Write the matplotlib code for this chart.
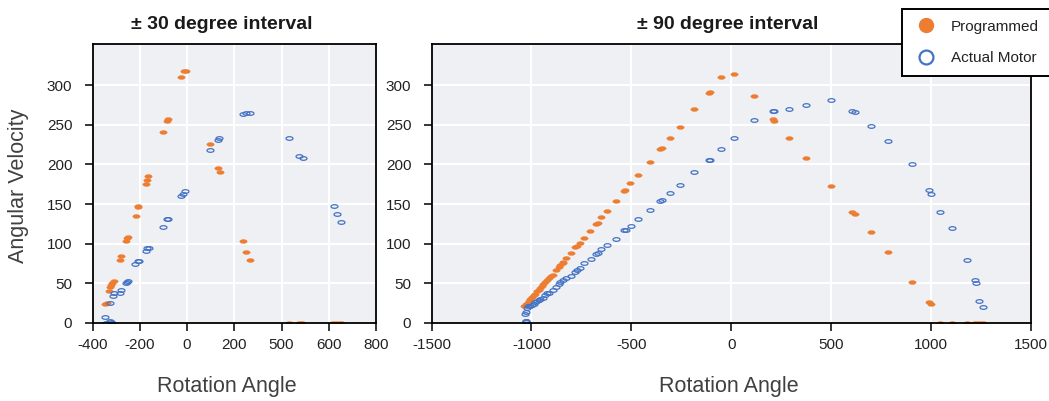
import numpy as np
import matplotlib
matplotlib.use("Agg")
import matplotlib.pyplot as plt
from matplotlib.lines import Line2D

plt.rcParams['font.family'] = ['Liberation Sans', 'DejaVu Sans']

# ---------------- data ----------------
left_title = "± 30 degree interval"
right_title = "± 90 degree interval"

left_xticks = [-400, -200, 0, 200, 400, 600, 800]
left_xticklabels = ["-400", "-200", "0", "200", "500", "600", "800"]
right_xticks = [-1500, -1000, -500, 0, 500, 1000, 1500]
right_xticklabels = ["-1500", "-1000", "-500", "0", "500", "1000", "1500"]
yticks = [0, 50, 100, 150, 200, 250, 300]

left_prog_x = [-347, -340, -331, -325, -321, -317, -311, -283, -278, -258, -252, -249,
               -217, -207, -206, -175, -169, -163, -101, -86, -79, -24, -11, -4,
               99, 131, 138, 237, 248, 265, 431, 472, 486, 616, 633, 651]
left_prog_y = [24, 25, 40, 45, 48, 51, 53, 80, 85, 103, 107, 109,
               135, 146, 148, 176, 181, 185, 241, 255, 258, 310, 318, 318,
               226, 195, 191, 104, 90, 79, 0, 0, 0, 0, 0, 0]

left_act_x = [-345, -342, -328, -321, -317, -324, -314, -310, -283, -278, -258, -252, -248,
              -218, -209, -204, -175, -169, -162, -101, -86, -79, -24, -18, -7,
              99, 131, 137, 237, 251, 265, 431, 472, 489, 622, 637, 651]
left_act_y = [7, 0, 2, 1, 0, 25, 34, 38, 38, 42, 50, 52, 53,
              74, 78, 78, 91, 94, 95, 121, 131, 131, 160, 163, 167,
              218, 231, 234, 264, 265, 265, 234, 211, 208, 148, 137, 128]

right_prog_x = [-1035, -1025, -1018, -1012, -1005, -997, -988, -980, -972, -963, -955, -947,
                -942, -930, -922, -912, -902, -892, -875, -863, -855, -843, -842, -827,
                -802, -780, -772, -755, -735, -705, -675, -668, -650, -623, -578, -538,
                -530, -505, -467, -408, -355, -347, -308, -255, -185, -112, -105, -52,
                12, 112, 208, 215, 290, 375, 500, 603, 618, 697, 783, 907,
                990, 1000, 1045, 1103, 1182, 1220, 1242, 1262]
right_prog_y = [21.5, 23.6, 25.7, 27.8, 29.9, 32.8, 35, 37, 40.4, 42.1, 44.6, 46.7,
                49.7, 51.8, 54.7, 57.2, 59.8, 61, 66.5, 70.7, 73.2, 75.8, 77, 81.7,
                88.4, 95.5, 96.8, 101.4, 107.3, 116.2, 125.4, 126.3, 133.8, 141, 154.5, 166.3,
                167.5, 176.4, 187.3, 202.9, 219.3, 221, 233.6, 247.5, 269.8, 290.4, 291.7, 309.8,
                314, 285.8, 257.6, 254.6, 233.6, 208.8, 172.6, 140, 137, 114.5, 89, 51.8,
                27, 24, 0, 0, 0, 0, 0, 0]

right_act_x = [-1027, -1025, -1029, -1030, -1025, -1022, -1017, -1005, -997, -988, -980, -972,
               -963, -955, -943, -933, -922, -910, -893, -875, -863, -855, -842, -827,
               -802, -780, -772, -755, -735, -702, -675, -668, -650, -623, -578, -538,
               -528, -500, -467, -408, -355, -347, -308, -255, -185, -112, -105, -52,
               12, 112, 208, 216, 290, 375, 500, 603, 618, 697, 783, 907,
               992, 1000, 1045, 1105, 1182, 1222, 1223, 1242, 1262]
right_act_y = [1.5, 3, 2, 11.8, 14.3, 19, 21, 21.9, 23, 24.4, 26, 27.4,
               29, 30.7, 32, 35.8, 37.5, 38.3, 42, 45.5, 49.2, 51.3, 54.7, 56.8,
               59.3, 64.8, 66.5, 70, 75.8, 80.4, 86.7, 88.4, 93.9, 98.5, 106.5, 117,
               117, 122, 131, 142.7, 154, 155.7, 164, 174, 190, 205.8, 206, 219,
               233.6, 256, 268, 268, 270.6, 275, 280.8, 267.7, 266.4, 248, 229.4, 201,
               167.5, 163.3, 140, 119.5, 79, 54, 51, 27.4, 20]

series_labels = ["Programmed", "Actual Motor"]

# ---------------- style ----------------
ORANGE = '#ED7D31'
BLUE = '#4472C4'
BG = '#eff0f3'
t = np.linspace(0, 2 * np.pi, 60)
ellipse = np.column_stack([np.cos(t), 0.52 * np.sin(t)])

W, H = 1049, 401
fig = plt.figure(figsize=(W / 100, H / 100), dpi=100)

def px_axes(x0, x1, y0, y1):
    return fig.add_axes([x0 / W, 1 - y1 / H, (x1 - x0) / W, (y1 - y0) / H])

axL = px_axes(92.5, 376, 44, 323)
axR = px_axes(431.5, 1031, 44, 323)

panels = [
    (axL, left_title, 0.456, 0.474, left_xticks, left_xticklabels, (-400, 800),
     left_prog_x, left_prog_y, left_act_x, left_act_y),
    (axR, right_title, 0.494, 0.496, right_xticks, right_xticklabels, (-1500, 1500),
     right_prog_x, right_prog_y, right_act_x, right_act_y),
]

for ax, title, tx, lx, xt, xtl, xlim, px_, py_, ax_, ay_ in panels:
    ax.set_facecolor(BG)
    ax.set_axisbelow(True)
    ax.grid(True, color='white', lw=1.5)
    ax.plot(px_, py_, ls='none', marker=ellipse, ms=5.3, mfc=ORANGE, mec=ORANGE, mew=0.3)
    ax.plot(ax_, ay_, ls='none', marker=ellipse, ms=5.0, mfc='none', mec=BLUE, mew=0.9)
    ax.set_xlim(*xlim)
    ax.set_ylim(0, 352)
    ax.set_xticks(xt)
    ax.set_xticklabels(xtl)
    ax.set_yticks(yticks)
    for s in ax.spines.values():
        s.set_linewidth(1.3)
        s.set_color('black')
    ax.tick_params(direction='out', length=6, width=1.1, color='black',
                   labelsize=11, labelcolor='#222222')
    ax.tick_params(axis='x', pad=4.5)
    ax.tick_params(axis='y', pad=8.5)
    ax.set_title(title, fontsize=14, fontweight='bold', pad=11, color='#1a1a1a', x=tx)
    ax.set_xlabel("Rotation Angle", fontsize=15.5, color='#404040')
    ax.xaxis.label.set_va('baseline')
    ax.xaxis.set_label_coords(lx, -(391.7 - 323) / 279)

axL.set_ylabel("Angular Velocity", fontsize=15.5, color='#404040')
axL.yaxis.set_label_coords(-(92.5 - 29) / 283.5, 0.49)

handles = [
    Line2D([], [], ls='none', marker='o', ms=10, mfc=ORANGE, mec=ORANGE),
    Line2D([], [], ls='none', marker='o', ms=10, mfc='none', mec=BLUE, mew=1.6),
]
leg = fig.legend(handles, series_labels, loc='upper left',
                 bbox_to_anchor=(902 / W, 1 - 9 / H), borderaxespad=0,
                 frameon=True, fancybox=False, framealpha=1, edgecolor='black',
                 fontsize=11, borderpad=0.7, labelspacing=1.15,
                 handlelength=1.7, handletextpad=0.8)
leg.get_frame().set_linewidth(1.4)
for txt in leg.get_texts():
    txt.set_color('#222222')

fig.savefig("out.png", dpi=100)
